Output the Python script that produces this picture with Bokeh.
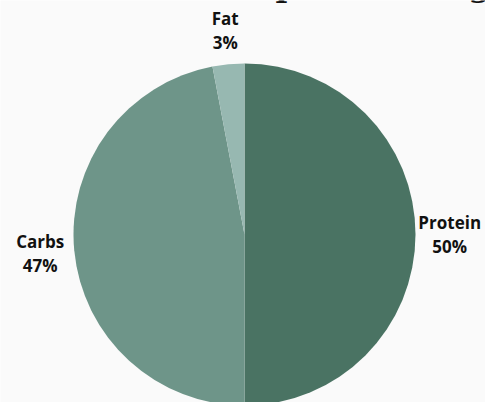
import math
from bokeh.plotting import figure
from bokeh.models import Range1d, ColumnDataSource
from bokeh.core.properties import value
from bokeh.embed import file_html
from bokeh.resources import INLINE

title_text = "Macro Split of a Vegan Meal"
categories = ["Protein", "Carbs", "Fat"]
shares = [50, 47, 3]
colors = ["#4a7363", "#6e9589", "#97b8b1"]

W, H = 485, 402
R = 171
p = figure(width=W, height=H, output_backend="svg", toolbar_location=None,
           x_range=Range1d(-244, W - 244), y_range=Range1d(-(H - 234), 234),
           min_border=0, background_fill_color="#fafafa", border_fill_color="#fafafa",
           outline_line_color=None)
p.axis.visible = False
p.grid.visible = False

total = sum(shares)
starts, ends, mids = [], [], []
a = math.pi / 2
for s in shares:
    da = 2 * math.pi * s / total
    starts.append(a - da)
    ends.append(a)
    mids.append(a - da / 2)
    a -= da

src = ColumnDataSource(dict(cat=categories, start=starts, end=ends, color=colors))
p.wedge(x=0, y=0, radius=R, start_angle="start", end_angle="end", direction="anticlock",
        fill_color="color", line_color=None, source=src)

LR = 1.2 * R
lx = [LR * math.cos(m) for m in mids]
ly = [LR * math.sin(m) for m in mids]
names = categories
pcts = [f"{s}%" for s in shares]
p.text(x=lx, y=[y + 12 for y in ly], text=names, text_align="center", text_baseline="middle",
       text_font=value("Open Sans"), text_font_style="bold", text_font_size="17px", text_color="#111111")
p.text(x=lx, y=[y - 12 for y in ly], text=pcts, text_align="center", text_baseline="middle",
       text_font=value("Open Sans"), text_font_style="bold", text_font_size="17px", text_color="#111111")

p.text(x=[-117], y=[230.5], text=[title_text], text_align="left", text_baseline="bottom",
       text_font=value("DejaVu Serif"), text_font_style="bold", text_font_size="32px", text_color="#111111")

open("out.html", "w").write(file_html(p, INLINE))
